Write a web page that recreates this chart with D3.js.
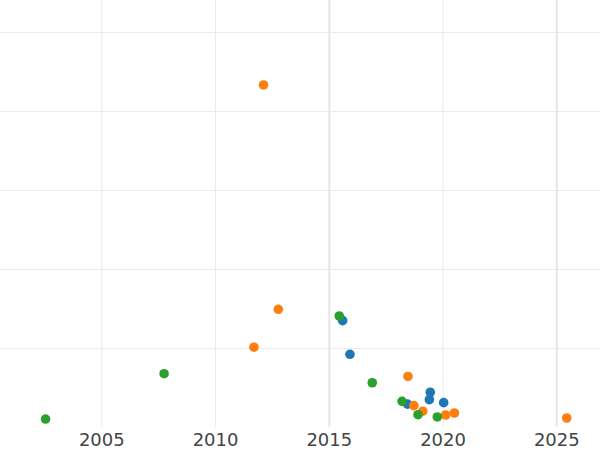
<!DOCTYPE html>
<html>
<head>
<meta charset="utf-8">
<script src="https://cdn.jsdelivr.net/npm/d3@7"></script>
<style>
  html, body { margin: 0; padding: 0; background: #fff; }
  svg { display: block; }
</style>
</head>
<body>
<svg id="chart" width="600" height="450"></svg>
<script>
// ---- data ----
const seriesNames = ["blue", "orange", "green"];
const blueYears   = [2015.61, 2015.93, 2019.46, 2019.42, 2018.46, 2020.05];
const blueValues  = [13.46,   9.20,    4.40,    3.46,    2.90,    3.08];
const orangeYears  = [2012.13, 2012.78, 2011.71, 2018.48, 2018.74, 2019.13, 2020.14, 2020.52, 2025.46];
const orangeValues = [43.3,    14.9,    10.1,    6.4,     2.7,     2.0,     1.52,    1.77,    1.14];
const greenYears  = [2002.55, 2007.76, 2015.46, 2016.91, 2018.22, 2018.92, 2019.77];
const greenValues = [1.01,    6.75,    14.05,   5.6,     3.25,    1.56,    1.27];
const xTicks = [2005, 2010, 2015, 2020, 2025];
const yTicks = [10, 20, 30, 40, 50];
const colors = {blue: "#1f77b4", orange: "#ff7f0e", green: "#2ca02c"};

const svg = d3.select("#chart");
const W = 600, plotBottom = 427;

const x = d3.scaleLinear().domain([2005, 2025]).range([101.3, 556.3]);
const y = d3.scaleLinear().domain([0, 50]).range([plotBottom, 32]);

// horizontal grid
svg.append("g")
  .call(d3.axisLeft(y).tickValues(yTicks).tickSize(-W).tickFormat(""))
  .call(g => g.select(".domain").remove())
  .call(g => g.selectAll("line").attr("stroke", "#ebebeb").attr("stroke-width", 1));

// vertical grid
svg.append("g")
  .attr("transform", `translate(0,${plotBottom})`)
  .call(d3.axisBottom(x).tickValues(xTicks).tickSize(-plotBottom).tickFormat(""))
  .call(g => g.select(".domain").remove())
  .call(g => g.selectAll("line")
    .attr("stroke", d => (d === 2015 || d === 2025) ? "#e6e6e6" : "#ebebeb")
    .attr("stroke-width", d => (d === 2015 || d === 2025) ? 2 : 1));

// x tick labels
svg.append("g")
  .attr("transform", `translate(0,${plotBottom})`)
  .call(d3.axisBottom(x).tickValues(xTicks).tickSize(0).tickPadding(6).tickFormat(d3.format("d")))
  .call(g => g.select(".domain").remove())
  .call(g => g.selectAll("text")
    .attr("fill", "#444")
    .attr("font-family", "DejaVu Sans, sans-serif")
    .attr("font-size", 18));

// points
const series = {
  blue: blueYears.map((t, i) => ({t, v: blueValues[i]})),
  orange: orangeYears.map((t, i) => ({t, v: orangeValues[i]})),
  green: greenYears.map((t, i) => ({t, v: greenValues[i]}))
};
seriesNames.forEach(name => {
  svg.append("g").selectAll("circle")
    .data(series[name])
    .join("circle")
    .attr("cx", d => x(d.t))
    .attr("cy", d => y(d.v))
    .attr("r", 4.8)
    .attr("fill", colors[name]);
});
</script>
</body>
</html>
